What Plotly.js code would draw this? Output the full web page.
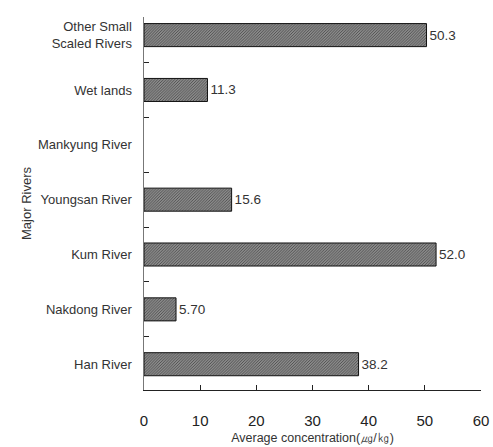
<!DOCTYPE html>
<html><head><meta charset="utf-8">
<script src="https://cdn.plot.ly/plotly-3.0.1.min.js"></script>
<style>html,body{margin:0;padding:0;background:#fff}#chart{width:493px;height:447px}</style>
</head><body><div id="chart"></div>
<script>
var categories = ["Han River", "Nakdong River", "Kum River", "Youngsan River", "Mankyung River", "Wet lands", "Other Small<br>Scaled Rivers"];
var values = [38.2, 5.70, 52.0, 15.6, null, 11.3, 50.3];
var valueLabels = ["38.2", "5.70", "52.0", "15.6", "", "11.3", "50.3"];
var xTicks = [0, 10, 20, 30, 40, 50, 60];

var trace = {
  type: 'bar', orientation: 'h',
  x: values, y: categories,
  text: valueLabels, textposition: 'outside', cliponaxis: false,
  textfont: {family: 'Liberation Sans, Arial, sans-serif', size: 13.5, color: '#333'},
  width: 0.42,
  marker: {color: '#8a8a8a', line: {color: '#111', width: 1},
    pattern: {shape: '/', fgcolor: '#4a4a4a', bgcolor: '#a4a4a4', size: 2, solidity: 0.5}},
  hoverinfo: 'none'
};
var layout = {
  width: 493, height: 447,
  margin: {l: 144, r: 12, t: 17, b: 57},
  paper_bgcolor: '#fff', plot_bgcolor: '#fff',
  showlegend: false,
  font: {family: 'Liberation Sans, Arial, sans-serif', color: '#333'},
  xaxis: {range: [0, 60], tickvals: xTicks, ticktext: xTicks.map(String),
    ticks: 'inside', ticklen: 5, tickcolor: '#222', showline: true, linecolor: '#222', linewidth: 1,
    showgrid: false, zeroline: false, tickfont: {size: 15, color: '#222'}, ticklabelstandoff: 17,
    title: {text: 'Average concentration(㎍/㎏)', font: {size: 12.5, color: '#333'}, standoff: 5}},
  yaxis: {type: 'category', range: [-0.47, 6.33], tickson: 'boundaries', ticks: 'inside', ticklen: 5,
    tickcolor: '#222', showline: true, linecolor: '#777', linewidth: 1.5, showgrid: false, zeroline: false,
    tickfont: {size: 13, color: '#333'}, ticklabelstandoff: 8,
    title: {text: 'Major Rivers', font: {size: 13, color: '#333'}, standoff: 3}}
};
Plotly.newPlot('chart', [trace], layout, {staticPlot: true, displayModeBar: false});
</script></body></html>
